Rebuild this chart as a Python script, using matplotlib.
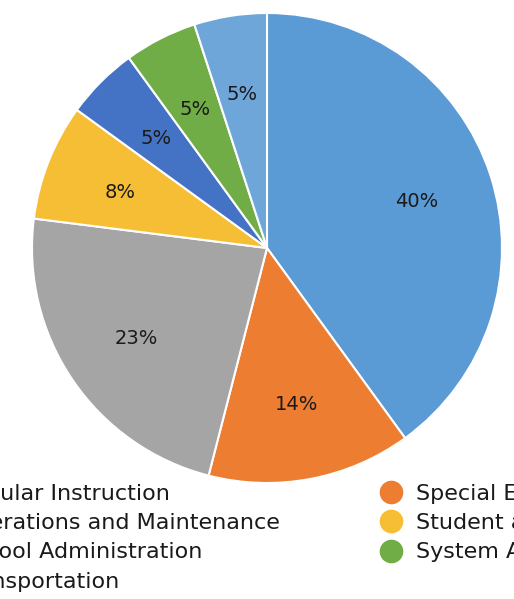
import matplotlib
matplotlib.use("Agg")
import matplotlib.pyplot as plt
from matplotlib.lines import Line2D

categories = [
    "Regular Instruction",
    "Special Education",
    "Operations and Maintenance",
    "Student and Staff Support",
    "School Administration",
    "System Administration",
    "Transportation",
]
shares = [40, 14, 23, 8, 5, 5, 5]
colors = ["#5B9BD5", "#ED7D31", "#A5A5A5", "#F6BE35", "#4472C4", "#70AD47", "#6FA6DA"]

plt.rcParams["font.family"] = ["DejaVu Sans"]

W, H = 514, 599
fig = plt.figure(figsize=(W / 100, H / 100), dpi=100)

# pie: centre (267, 248) px, radius 235 px
cx, cy, r = 267, 248, 235
ax = fig.add_axes([(cx - r) / W, 1 - (cy + r) / H, 2 * r / W, 2 * r / H])
wedges, texts, autotexts = ax.pie(
    shares, colors=colors, startangle=90, counterclock=False,
    autopct="%1.0f%%", pctdistance=0.67,
    wedgeprops=dict(edgecolor="white", linewidth=1.5),
    textprops=dict(fontsize=14, color="#1a1a1a"))
for t in autotexts:
    t.set_va("center_baseline")
ax.set_xlim(-1, 1)
ax.set_ylim(-1, 1)
ax.set_aspect("equal")
ax.axis("off")


def handles_for(idx):
    return [Line2D([], [], marker="o", linestyle="none", markersize=16,
                   markerfacecolor=colors[i], markeredgecolor=colors[i]) for i in idx]


left_idx = [0, 2, 4, 6]
right_idx = [1, 3, 5]
common = dict(frameon=False, fontsize=16, borderpad=0, borderaxespad=0,
              handlelength=1.0, handletextpad=0.63, labelspacing=0.42,
              loc="center left", labelcolor="#1a1a1a")

leg_l = fig.legend(handles_for(left_idx), [categories[i] for i in left_idx],
                   bbox_to_anchor=(-78 / W, 1 - 537.5 / H), **common)
leg_r = fig.legend(handles_for(right_idx), [categories[i] for i in right_idx],
                   bbox_to_anchor=(380 / W, 1 - 523 / H), **common)

fig.savefig("out.png", dpi=100)
